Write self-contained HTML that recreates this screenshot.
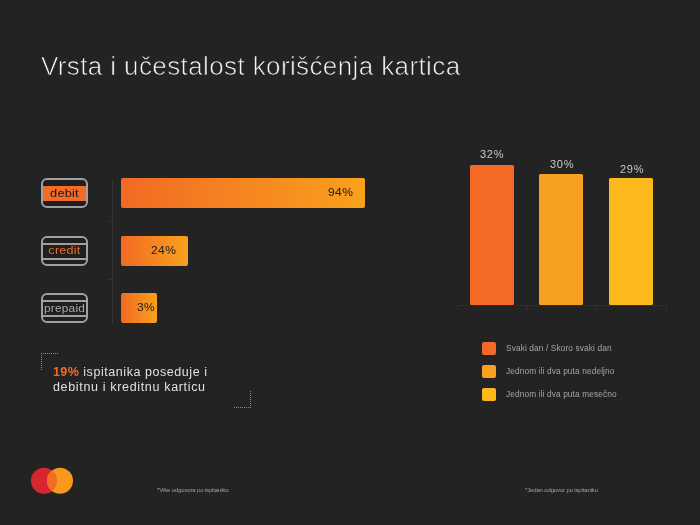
<!DOCTYPE html>
<html>
<head>
<meta charset="utf-8">
<style>
html,body{margin:0;padding:0;}
body{width:700px;height:525px;background:#232323;position:relative;overflow:hidden;font-family:"Liberation Sans",sans-serif;}
.t{position:absolute;white-space:nowrap;line-height:1;will-change:transform;}
.title{left:41px;top:53.2px;font-size:26px;letter-spacing:0.39px;color:#f4f4f4;-webkit-text-stroke:0.7px #232323;}
.card{position:absolute;left:41px;width:43px;height:26px;border:2px solid #a0a0a0;border-radius:6px;background:#1f1f1f;}
.band{position:absolute;left:0;right:0;top:6px;height:15px;background:#f26b2a;}
.lines{position:absolute;left:0;right:0;top:5px;height:13px;border-top:2px solid #a0a0a0;border-bottom:2px solid #a0a0a0;}
.ctext{position:absolute;left:0;right:0;text-align:center;font-size:10.5px;line-height:1;letter-spacing:0.2px;will-change:transform;}
.debit{-webkit-text-stroke:0.08px #2a1a12;}
.axis{position:absolute;left:112px;top:179px;width:1px;height:145px;background:#353535;}
.bar{position:absolute;left:121px;height:30px;border-radius:2px;background:linear-gradient(90deg,#f26a24,#f9a11d);}
.blab{font-size:11px;color:#231f20;letter-spacing:0.4px;transform:scaleX(1.09);transform-origin:0 0;-webkit-text-stroke:0.05px #231f20;}
.vbar{position:absolute;width:44px;border-radius:1.5px;}
.vlab{font-size:11px;color:#f2f2f2;letter-spacing:0.75px;-webkit-text-stroke:0.2px #232323;}
.leg{position:absolute;left:482px;width:14px;height:13px;border-radius:2px;}
.legt{left:506px;font-size:8.3px;color:#a4a4a4;letter-spacing:0.12px;}
.foot{font-size:6px;color:#a0a0a0;letter-spacing:-0.15px;}
.dot{position:absolute;}
</style>
</head>
<body>
<div class="t title">Vrsta i učestalost korišćenja kartica</div>

<!-- cards -->
<div class="card" style="top:178px;">
  <div class="band"></div>
  <div class="ctext debit" style="top:7.6px;color:#2a1a12;transform:scaleX(1.21);">debit</div>
</div>
<div class="card" style="top:236px;">
  <div class="lines"></div>
  <div class="ctext" style="top:7.4px;color:#f26b2a;transform:scaleX(1.2);">credit</div>
</div>
<div class="card" style="top:293px;">
  <div class="lines"></div>
  <div class="ctext" style="top:7.8px;color:#a8a8a8;transform:scaleX(1.13);">prepaid</div>
</div>

<div class="axis"></div>

<div class="bar" style="top:178px;width:244px;"></div>
<div class="t blab" style="left:328px;top:187px;">94%</div>
<div class="bar" style="top:236px;width:67px;"></div>
<div class="t blab" style="left:151px;top:245px;">24%</div>
<div class="bar" style="top:293px;width:36px;"></div>
<div class="t blab" style="left:136.5px;top:302px;">3%</div>

<!-- callout -->
<div class="t" style="left:53px;top:364.8px;font-size:12.5px;line-height:14.6px;color:#e0e0e0;">
<span style="color:#f26b2a;font-weight:bold;letter-spacing:0.4px;">19%</span><span style="letter-spacing:0.56px"> ispitanika poseduje i</span><br><span style="letter-spacing:0.66px">debitnu i kreditnu karticu</span>
</div>

<!-- right chart -->
<div class="vbar" style="left:470px;top:165px;height:140px;background:#f26a26;"></div>
<div class="vbar" style="left:539px;top:174px;height:131px;background:#f7a021;"></div>
<div class="vbar" style="left:609px;top:178px;height:127px;background:#fdb91b;"></div>
<div class="t vlab" style="left:480px;top:148.8px;">32%</div>
<div class="t vlab" style="left:549.5px;top:158.8px;">30%</div>
<div class="t vlab" style="left:619.5px;top:163.8px;">29%</div>
<div style="position:absolute;left:457px;top:305px;width:210px;height:1px;background:#2e2e2e;"></div>
<div style="position:absolute;left:457px;top:305px;width:1px;height:5px;background:#2e2e2e;"></div>
<div style="position:absolute;left:527px;top:305px;width:1px;height:5px;background:#2e2e2e;"></div>
<div style="position:absolute;left:596px;top:305px;width:1px;height:5px;background:#2e2e2e;"></div>
<div style="position:absolute;left:666px;top:305px;width:1px;height:5px;background:#2e2e2e;"></div>
<div style="position:absolute;left:108px;top:221px;width:5px;height:1px;background:#303030;"></div>
<div style="position:absolute;left:108px;top:279px;width:5px;height:1px;background:#303030;"></div>

<div class="leg" style="top:342px;background:#f26a26;"></div>
<div class="leg" style="top:365px;background:#f7a021;"></div>
<div class="leg" style="top:388px;background:#fdb91b;"></div>
<div class="t legt" style="top:344px;">Svaki dan / Skoro svaki dan</div>
<div class="t legt" style="top:367px;">Jednom ili dva puta nedeljno</div>
<div class="t legt" style="top:390px;">Jednom ili dva puta mesečno</div>

<!-- logo + dotted corners -->
<svg style="position:absolute;left:0;top:0" width="700" height="525">
  <defs><clipPath id="cr"><circle cx="44" cy="480.8" r="13.1"/></clipPath></defs>
  <circle cx="44" cy="480.8" r="13.1" fill="#d6272f"/>
  <circle cx="60" cy="480.8" r="13" fill="#f79a1b"/>
  <circle cx="60" cy="480.8" r="13" fill="#f56a25" clip-path="url(#cr)"/>
  <g stroke="#8c8c8c" stroke-width="1" stroke-dasharray="1 1">
    <line x1="41.5" y1="353" x2="41.5" y2="370"/>
    <line x1="43" y1="353.5" x2="59" y2="353.5"/>
    <line x1="250.5" y1="391" x2="250.5" y2="408"/>
    <line x1="234" y1="407.5" x2="250" y2="407.5"/>
  </g>
</svg>

<div class="t foot" style="left:157px;top:487px;">*Više odgovora po ispitaniku</div>
<div class="t foot" style="left:525px;top:487px;">*Jedan odgovor po ispitaniku</div>
</body>
</html>
